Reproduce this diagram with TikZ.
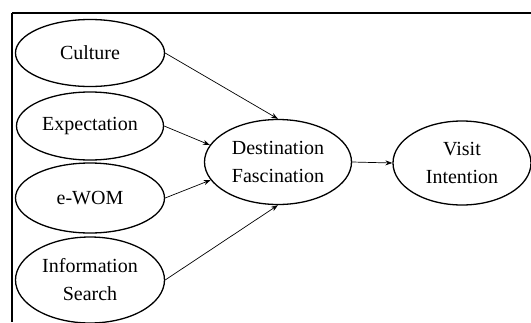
\documentclass[tikz,border=0pt]{standalone}
\usepackage{fontspec}
\setmainfont{Liberation Serif}
\usetikzlibrary{shapes.geometric,arrows.meta}
\begin{document}
\begin{tikzpicture}[x=1pt,y=-1pt,
  construct/.style={ellipse,draw,line width=1.3pt,inner sep=0pt,align=center,
    font=\fontsize{20}{28}\selectfont},
  link/.style={draw,line width=0.7pt,-{Stealth[length=7pt,width=5pt]}}]
\useasboundingbox (0,0) rectangle (531,322);
\coordinate (ftl) at (12,13);
\coordinate (ftr) at (531,13);
\coordinate (fbl) at (12,322);
\draw[line width=2pt] (ftr) -- (ftl);
\draw[line width=1.5pt] (ftl) -- (fbl);
\node[construct,minimum width=149pt,minimum height=67pt] (cul) at (90,53) {Culture};
\node[construct,minimum width=147pt,minimum height=68pt] (exp) at (90,126) {Expectation};
\node[construct,minimum width=149pt,minimum height=70pt] (ewom) at (90,198) {e-WOM};
\node[construct,minimum width=149pt,minimum height=86pt] (info) at (90,280) {Information\\Search};
\node[construct,minimum width=147pt,minimum height=85pt] (df) at (278,162) {Destination\\Fascination};
\node[construct,minimum width=138pt,minimum height=84pt] (vi) at (462,163) {Visit\\Intention};
\draw[link] (cul.east) -- (df.north);
\draw[link] (exp.east) -- (df.166);
\draw[link] (ewom.east) -- (df.195);
\draw[link] (info.east) -- (df.south);
\draw[link] (df.east) -- (vi.west);
\end{tikzpicture}
\end{document}
